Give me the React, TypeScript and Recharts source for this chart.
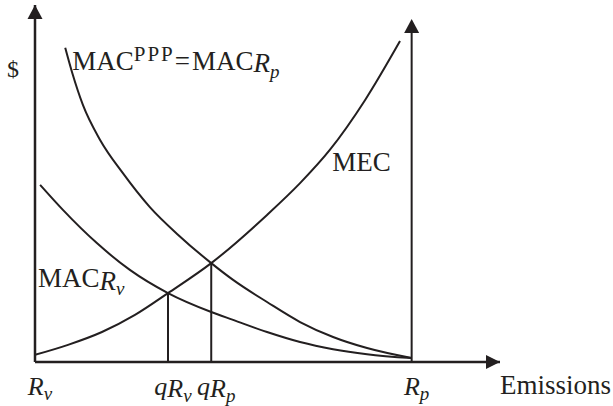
import { ComposedChart, Line, XAxis, YAxis, ReferenceLine, ReferenceDot } from 'recharts'

// emissions run 0..100 along x, $ run 0..100 along y
const RP = 81.0
const Q_RV = 28.6
const Q_RP = 37.9

const mecX = [0, 7.1, 14.4, 21.5, 28.6, 37.9, 49.9, 57.0, 63.4, 71.0, 78.5]
const mecY = [2.0, 4.8, 8.4, 13.2, 19.3, 27.7, 41.2, 50.1, 59.4, 73.4, 89.9]

const macRpX = [6.5, 8.0, 10.3, 14.0, 18.9, 24.7, 30.8, 37.9, 42.6, 49.9, 57.0, 64.1, 71.4, 81.0]
const macRpY = [88.0, 81.0, 72.0, 62.2, 52.9, 43.4, 35.6, 27.7, 23.0, 16.8, 11.2, 7.0, 3.9, 1.1]

const macRvX = [1.1, 6.0, 13.3, 20.4, 28.6, 37.9, 42.6, 49.9, 57.0, 64.1, 71.4, 81.0]
const macRvY = [49.6, 42.6, 33.3, 25.8, 19.3, 14.0, 11.8, 8.4, 5.6, 3.6, 2.2, 1.1]

const tickValues = [0, Q_RV, Q_RP, RP]
const tickMain = ['R', 'q', 'q', 'R']
const tickSub = ['v', 'R', 'R', 'p']
const tickSubSub = ['', 'v', 'p', '']

const INK = '#231f20'
const FONT = 'Liberation Serif, Times New Roman, serif'

const toPoints = (xs: number[], ys: number[]) => xs.map((x, i) => ({ x, y: ys[i] }))

const mecData = toPoints(mecX, mecY)
const macRpData = toPoints(macRpX, macRpY)
const macRvData = toPoints(macRvX, macRvY)

function EmissionTick(props: any) {
  const { x, y, payload } = props
  const i = tickValues.indexOf(payload.value)
  if (i < 0) return null
  const hasSubSub = tickSubSub[i] !== ''
  return (
    <text x={x + 5} y={y + 25} textAnchor="middle" fontFamily={FONT} fontSize={26} fill={INK} fontStyle="italic">
      {tickMain[i]}
      {hasSubSub ? (
        <>
          <tspan dy={2}>{tickSub[i]}</tspan>
          <tspan dy={5} fontSize={19}>{tickSubSub[i]}</tspan>
        </>
      ) : (
        <tspan dy={5} fontSize={19}>{tickSub[i]}</tspan>
      )}
    </text>
  )
}

const upArrow = (p: any) => (
  <polygon points={`${p.cx},${p.cy} ${p.cx - 7.5},${p.cy + 14} ${p.cx + 7.5},${p.cy + 14}`} fill={INK} />
)

const rightArrow = (p: any) => (
  <polygon points={`${p.cx},${p.cy} ${p.cx - 14},${p.cy - 7} ${p.cx - 14},${p.cy + 7}`} fill={INK} />
)

export default function App() {
  return (
    <div style={{ position: 'absolute', left: 0, top: 0, background: '#fff' }}>
      <ComposedChart width={613} height={406} margin={{ top: 5, right: 113, bottom: 0, left: 0 }}>
        <XAxis
          dataKey="x"
          type="number"
          domain={[0, 100]}
          allowDataOverflow
          ticks={tickValues}
          interval={0}
          tickLine={false}
          axisLine={{ stroke: INK, strokeWidth: 2.5 }}
          tick={<EmissionTick />}
          height={44}
          label={{
            content: (p: any) => (
              <text x={p.viewBox.x + p.viewBox.width} y={394} fontFamily={FONT} fontSize={27} fill={INK}>
                Emissions
              </text>
            ),
          }}
        />
        <YAxis
          dataKey="y"
          type="number"
          domain={[0, 100]}
          allowDataOverflow
          width={35}
          tick={false}
          tickLine={false}
          axisLine={{ stroke: INK, strokeWidth: 2.5 }}
          label={{
            content: () => (
              <text x={7} y={77} fontFamily={FONT} fontSize={24} fill={INK}>$</text>
            ),
          }}
        />

        <ReferenceLine segment={[{ x: RP, y: 0 }, { x: RP, y: 94 }]} stroke={INK} strokeWidth={2} />
        <ReferenceLine segment={[{ x: Q_RV, y: 0 }, { x: Q_RV, y: 19.3 }]} stroke={INK} strokeWidth={2} />
        <ReferenceLine segment={[{ x: Q_RP, y: 0 }, { x: Q_RP, y: 27.7 }]} stroke={INK} strokeWidth={2} />

        <Line data={mecData} dataKey="y" type="monotone" stroke={INK} strokeWidth={2} dot={false} isAnimationActive={false} />
        <Line data={macRpData} dataKey="y" type="monotone" stroke={INK} strokeWidth={2} dot={false} isAnimationActive={false} />
        <Line data={macRvData} dataKey="y" type="monotone" stroke={INK} strokeWidth={2} dot={false} isAnimationActive={false} />

        <ReferenceDot x={0} y={100} r={0} ifOverflow="visible" shape={upArrow} />
        <ReferenceDot x={RP} y={96.1} r={0} ifOverflow="visible" shape={upArrow} />
        <ReferenceDot x={100} y={0} r={0} ifOverflow="visible" shape={rightArrow} />

        <ReferenceDot
          x={8}
          y={81.8}
          r={0}
          ifOverflow="visible"
          shape={(p: any) => (
            <text x={p.cx} y={p.cy} fontFamily={FONT} fontSize={27} fill={INK}>
              MAC
              <tspan dy={-9} fontSize={21} letterSpacing={2}>PPP</tspan>
              <tspan dy={9}>=</tspan>
              <tspan dx={2}>MAC</tspan>
              <tspan dy={2} fontStyle="italic">R</tspan>
              <tspan dy={6} fontSize={19} fontStyle="italic">p</tspan>
            </text>
          )}
        />
        <ReferenceDot
          x={63.9}
          y={53.5}
          r={0}
          ifOverflow="visible"
          shape={(p: any) => (
            <text x={p.cx} y={p.cy} fontFamily={FONT} fontSize={27} fill={INK}>MEC</text>
          )}
        />
        <ReferenceDot
          x={0.65}
          y={21}
          r={0}
          ifOverflow="visible"
          shape={(p: any) => (
            <text x={p.cx} y={p.cy} fontFamily={FONT} fontSize={27} fill={INK}>
              MAC
              <tspan dy={3} fontStyle="italic">R</tspan>
              <tspan dy={5} fontSize={19} fontStyle="italic">v</tspan>
            </text>
          )}
        />
      </ComposedChart>
    </div>
  )
}
